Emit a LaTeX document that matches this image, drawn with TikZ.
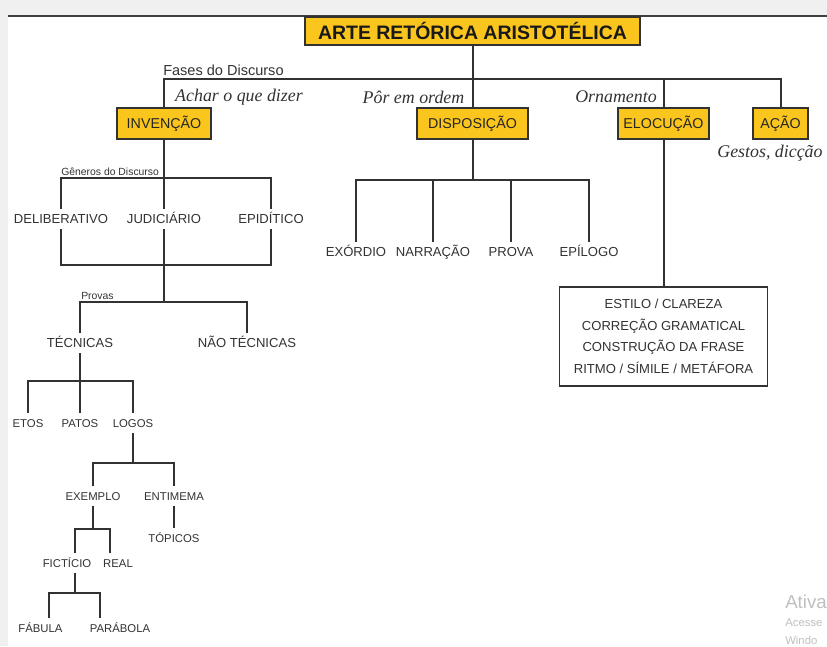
\documentclass[tikz,border=0pt]{standalone}
\usepackage{fontspec}
\setmainfont{Liberation Sans}
\newfontfamily\serifit{Liberation Serif}
\usetikzlibrary{positioning,calc}
\definecolor{ouro}{RGB}{250,197,28}
\definecolor{traco}{RGB}{50,50,50}
\definecolor{texto}{RGB}{50,50,50}
\tikzset{
  titulo/.style={draw=traco, fill=ouro, line width=1.4pt, font=\bfseries\fontsize{14.6}{16}\selectfont,
    text=black!90, minimum width=251pt, minimum height=20.6pt, inner sep=0pt},
  fase/.style={draw=traco, fill=ouro, line width=1.2pt, font=\fontsize{10.7}{12}\selectfont,
    text=black!85, minimum height=23pt, inner xsep=2pt},
  ramo/.style={draw=traco, line width=1.5pt},
  item/.style={font=\fontsize{9.8}{12}\selectfont, text=texto, inner xsep=1pt, inner ysep=4pt,
    text height=7pt, text depth=0pt},
  itempq/.style={item, font=\fontsize{8.5}{10}\selectfont, text height=6.1pt},
  nota/.style={font=\serifit\itshape\fontsize{13.4}{15}\selectfont, text=texto, inner sep=0pt},
  rotpq/.style={font=\fontsize{7.8}{9}\selectfont, text=texto, inner sep=0pt, anchor=base west},
  marca/.style={text=black!25, inner sep=0pt, anchor=base west},
}
\begin{document}
\begin{tikzpicture}[x=0.75pt,y=-0.75pt]
  \useasboundingbox (0,0) rectangle (827,646);
  % moldura da captura
  \fill[black!6] (0,0) rectangle (827,15);
  \fill[black!6] (0,0) rectangle (8,646);
  \draw[line width=1.5pt, black!75] (8,16) -- (827,16);

  % topo e fases
  \node[titulo] (arte) at (472.5,31) {ARTE RETÓRICA ARISTOTÉLICA};
  \node[fase, minimum width=70.5pt] (inv) at (164,123.5) {INVENÇÃO};
  \node[fase, minimum width=83.25pt] (disp) at (472.5,123.5) {DISPOSIÇÃO};
  \node[fase, minimum width=68.25pt] (elo) at (663.5,123.5) {ELOCUÇÃO};
  \node[fase, minimum width=41.25pt] (acao) at (780.5,123.5) {AÇÃO};
  \coordinate (fases) at (472,79);
  \draw[ramo] (arte) -- (disp);
  \draw[ramo] (inv.north) -- (inv.north |- fases) -- (acao.north |- fases) -- (acao.north);
  \draw[ramo] (elo.north |- fases) -- (elo.north);
  \node[anchor=base west, inner sep=0pt, font=\fontsize{10.9}{12}\selectfont, text=texto] (fasesrot) at (163,75) {Fases do Discurso};
  \node[nota] (achar) at (239,97) {Achar o que dizer};
  \node[nota] (ordem) at (413.5,97) {Pôr em ordem};
  \node[nota] (orna) at (616,97) {Ornamento};
  \node[nota] (gestos) at (770,153) {Gestos, dicção};

  % invencao: generos e provas
  \node[rotpq] (generos) at (61,175) {Gêneros do Discurso};
  \coordinate (gen) at (164,178);
  \coordinate (genb) at (164,265);
  \node[item] (deli) at (61,219) {DELIBERATIVO};
  \node[item] (judi) at (164,219) {JUDICIÁRIO};
  \node[item] (epid) at (271,219) {EPIDÍTICO};
  \draw[ramo] (inv) -- (judi);
  \draw[ramo] (deli.north) |- (gen) -| (epid.north);
  \draw[ramo] (deli.south) |- (genb) -| (epid.south);
  \coordinate (prov) at (164,302);
  \draw[ramo] (judi.south) -- (prov);
  \node[rotpq] (provas) at (81,299) {Provas};
  \node[item] (tec) at (80,343) {TÉCNICAS};
  \node[item] (ntec) at (247,343) {NÃO TÉCNICAS};
  \draw[ramo] (tec.north) |- (prov) -| (ntec.north);

  \coordinate (tecb) at (80,381);
  \node[itempq] (etos) at (28,423) {ETOS};
  \node[itempq] (patos) at (80,423) {PATOS};
  \node[itempq] (logos) at (133,423) {LOGOS};
  \draw[ramo] (tec) -- (patos);
  \draw[ramo] (etos.north) |- (tecb) -| (logos.north);

  \coordinate (logb) at (133,463);
  \node[itempq] (exem) at (93,496) {EXEMPLO};
  \node[itempq] (enti) at (174,496) {ENTIMEMA};
  \node[itempq] (topi) at (174,538) {TÓPICOS};
  \draw[ramo] (logos) -- (logb);
  \draw[ramo] (exem.north) |- (logb) -| (enti.north);
  \draw[ramo] (enti) -- (topi);

  \coordinate (exb) at (93,529);
  \node[itempq] (fict) at (67,563) {FICTÍCIO};
  \node[itempq] (real) at (118,563) {REAL};
  \draw[ramo] (exem.south) -- (exb);
  \draw[ramo] ([xshift=6pt]fict.north) |- (exb) -| ([xshift=-6pt]real.north);

  \coordinate (fib) at (75,593);
  \node[itempq] (fab) at (40.5,628) {FÁBULA};
  \node[itempq] (para) at (120,628) {PARÁBOLA};
  \draw[ramo] ([xshift=6pt]fict.south) -- (fib);
  \draw[ramo] ([xshift=6.4pt]fab.north) |- (fib) -| ([xshift=-15pt]para.north);

  % disposicao
  \coordinate (dispb) at (472.5,180);
  \node[item] (exor) at (356,252) {EXÓRDIO};
  \node[item] (narr) at (433,252) {NARRAÇÃO};
  \node[item] (prova) at (511,252) {PROVA};
  \node[item] (epil) at (589,252) {EPÍLOGO};
  \draw[ramo] (disp) -- (dispb);
  \draw[ramo] (exor.north) |- (dispb) -| (epil.north);
  \draw[ramo] (narr.north) -- (narr.north |- dispb);
  \draw[ramo] (prova.north) -- (prova.north |- dispb);

  % elocucao
  \node[draw=traco, line width=1.2pt, minimum width=156pt, minimum height=74pt, align=center,
    font=\fontsize{9.8}{16.1}\selectfont, text=texto] (estilo) at (663.5,336.5)
    {ESTILO / CLAREZA\\CORREÇÃO GRAMATICAL\\CONSTRUÇÃO DA FRASE\\RITMO / SÍMILE / METÁFORA};
  \draw[ramo] (elo) -- (estilo);

  % marca d'agua da captura
  \node[marca, font=\fontsize{14}{15}\selectfont] (ativa) at (785,608) {Ativa};
  \node[marca, font=\fontsize{8.5}{10}\selectfont] (acesse) at (785,626) {Acesse};
  \node[marca, font=\fontsize{8.5}{10}\selectfont] (windo) at (785,644) {Windo};
\end{tikzpicture}
\end{document}
